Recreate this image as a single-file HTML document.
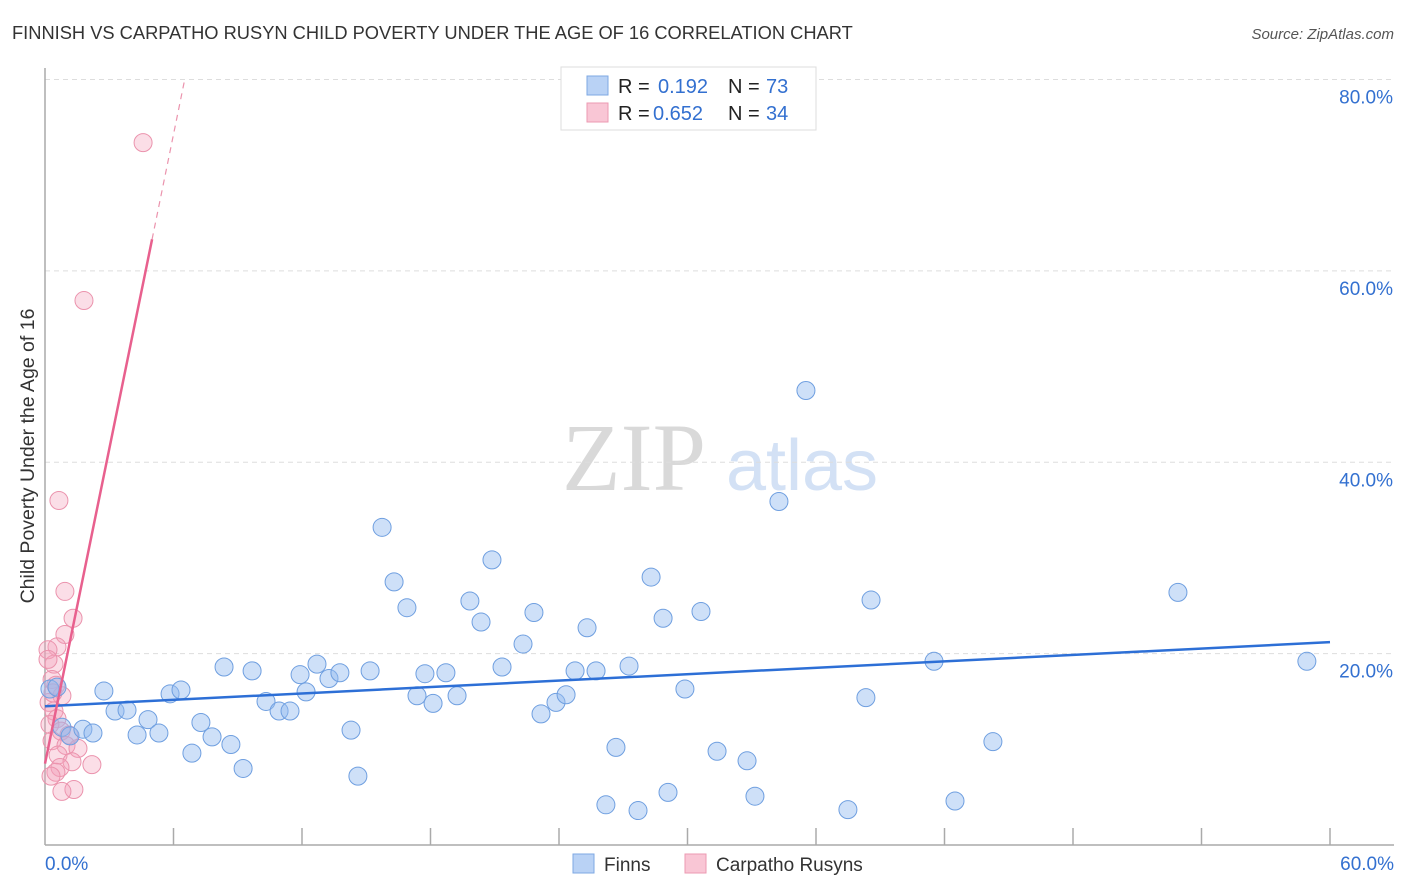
<!DOCTYPE html>
<html><head><meta charset="utf-8"><style>
body{margin:0;background:#fff;font-family:"Liberation Sans",sans-serif;}
#wrap{position:relative;width:1406px;height:892px;overflow:hidden;}
</style></head><body>
<div id="wrap">
<svg id="svg" width="1406" height="892" xmlns="http://www.w3.org/2000/svg">
<text x="12" y="39" font-size="18.3" fill="#333">FINNISH VS CARPATHO RUSYN CHILD POVERTY UNDER THE AGE OF 16 CORRELATION CHART</text>
<text x="1394" y="39" font-size="15" fill="#555" font-style="italic" text-anchor="end">Source: ZipAtlas.com</text>
<text x="34" y="456" font-size="19.5" fill="#333" text-anchor="middle" transform="rotate(-90 34 456)">Child Poverty Under the Age of 16</text>
<g>
<text x="634" y="490" font-size="96" fill="#d9d9d9" font-family="Liberation Serif,serif" text-anchor="middle">ZIP</text>
<text x="802" y="490" font-size="72" fill="#d3e1f5" text-anchor="middle">atlas</text>
</g>
<g id="grid"></g>
<g id="axes"></g>
<g id="pts"></g>
<g id="lines"></g>
<g>
<rect x="561" y="67" width="255" height="63" fill="#fff" stroke="#ddd"/>
<rect x="587" y="76" width="21" height="19" fill="#b9d2f5" stroke="#7ea8e3"/>
<rect x="587" y="103" width="21" height="19" fill="#f9c6d5" stroke="#ec9ab2"/>
<text y="93" font-size="20"><tspan x="618" fill="#222">R = </tspan><tspan x="658" fill="#3370d0">0.192</tspan><tspan x="728" fill="#222">N = </tspan><tspan x="766" fill="#3370d0">73</tspan></text>
<text y="120" font-size="20"><tspan x="618" fill="#222">R = </tspan><tspan x="653" fill="#3370d0">0.652</tspan><tspan x="728" fill="#222">N = </tspan><tspan x="766" fill="#3370d0">34</tspan></text>
</g>
<g>
<rect x="573" y="854" width="21" height="19" fill="#b9d2f5" stroke="#7ea8e3"/>
<text x="604" y="871" font-size="19" fill="#333">Finns</text>
<rect x="685" y="854" width="21" height="19" fill="#f9c6d5" stroke="#ec9ab2"/>
<text x="716" y="871" font-size="19" fill="#333">Carpatho Rusyns</text>
</g>
</svg>
</div>
<script>
const yTicks=[20,40,60,80];
const xTickLabels=["0.0%","60.0%"];
const finnsX=[0.23,0.56,0.79,1.17,1.77,2.24,2.75,3.27,3.83,4.30,4.81,5.32,5.84,6.35,6.86,7.28,7.80,8.36,8.68,9.25,9.67,10.32,10.93,11.44,11.91,12.19,12.70,13.26,13.77,14.29,14.61,15.18,15.74,16.30,16.90,17.37,17.74,18.12,18.72,19.24,19.84,20.36,20.87,21.34,22.32,22.83,23.16,23.86,24.33,24.75,25.31,25.73,26.19,26.66,27.27,27.69,28.30,28.86,29.09,29.88,30.63,31.38,32.78,33.15,34.27,35.53,37.49,38.33,38.57,41.51,42.49,44.26,52.90,58.92];
const finnsY=[16.3,16.5,12.3,11.4,12.1,11.7,16.1,14.0,14.1,11.5,13.1,11.7,15.8,16.2,9.6,12.8,11.3,18.6,10.5,8.0,18.2,15.0,14.0,14.0,17.8,16.0,18.9,17.4,18.0,12.0,7.2,18.2,33.2,27.5,24.8,15.6,17.9,14.8,18.0,15.6,25.5,23.3,29.8,18.6,21.0,24.3,13.7,14.9,15.7,18.2,22.7,18.2,4.2,10.2,18.7,3.6,28.0,23.7,5.5,16.3,24.4,9.8,8.8,5.1,35.9,47.5,3.7,15.4,25.6,19.2,4.6,10.8,26.4,19.2];
const rusynX=[4.58,1.82,0.65,0.93,1.31,0.93,0.56,0.14,0.42,0.33,0.51,0.79,0.19,0.42,0.56,0.23,0.75,1.12,0.33,0.98,1.54,0.61,1.26,2.19,0.70,0.51,0.28,1.35,0.79,0.14,0.37];
const rusynY=[73.4,56.9,36.0,26.5,23.7,22.0,20.7,20.4,18.9,17.3,16.7,15.6,14.9,14.0,13.2,12.6,11.9,11.5,10.9,10.4,10.1,9.4,8.7,8.4,8.1,7.6,7.2,5.8,5.6,19.4,15.9];
const finnsTrend=[14.5,21.2];
const rusynTrend=[8.5,63.3,80];
const NS="http://www.w3.org/2000/svg";
const X=v=>45+v*(1330-45)/60;
const Y=v=>845-v*(845-79.5)/80;
function mk(tag,attrs,parent){const e=document.createElementNS(NS,tag);for(const k in attrs)e.setAttribute(k,attrs[k]);parent.appendChild(e);return e;}
const grid=document.getElementById('grid'),axes=document.getElementById('axes'),pts=document.getElementById('pts'),lines=document.getElementById('lines');
yTicks.forEach(t=>{
 const l=mk('line',{x1:45,x2:1394,y1:Y(t),y2:Y(t),stroke:'#ddd','stroke-dasharray':'5,4'},grid);
 
 
 const tx=mk('text',{x:1393,y:Y(t)+24,'font-size':19,fill:'#3370d0','text-anchor':'end'},grid);
 tx.textContent=t.toFixed(1)+'%';
 
 
});
let a=mk('line',{x1:45,x2:45,y1:68,y2:845,stroke:'#aaa','stroke-width':1.5},axes);


a=mk('line',{x1:45,x2:1394,y1:845,y2:845,stroke:'#aaa','stroke-width':1.5},axes);


for(let i=1;i<=10;i++){
 const t=mk('line',{x1:X(i*6),x2:X(i*6),y1:828,y2:845,stroke:'#aaa','stroke-width':1.5},axes);
 
 
}
[[0,'start',45],[60,'end',1394]].forEach((d,i)=>{
 const tx=mk('text',{x:d[2],y:870,'font-size':19,fill:'#3370d0','text-anchor':d[1]},axes);
 tx.textContent=xTickLabels[i];
 
 
});
rusynX.forEach((v,i)=>{
 const c=mk('circle',{cx:X(v),cy:Y(rusynY[i]),r:9,fill:'rgba(244,160,185,0.35)',stroke:'#eb93ad','stroke-width':1},pts);
 
 
});
finnsX.forEach((v,i)=>{
 const c=mk('circle',{cx:X(v),cy:Y(finnsY[i]),r:9,fill:'rgba(147,187,240,0.45)',stroke:'#6f9fe0','stroke-width':1},pts);
 
 
});
let l=mk('line',{x1:X(0),y1:Y(finnsTrend[0]),x2:X(60),y2:Y(finnsTrend[1]),stroke:'#2d6fd6','stroke-width':2.5},lines);


l=mk('line',{x1:X(0),y1:Y(rusynTrend[0]),x2:X(5),y2:Y(rusynTrend[1]),stroke:'#e8608e','stroke-width':2.5},lines);


const slope=(rusynTrend[1]-rusynTrend[0])/5;
l=mk('line',{x1:X(5),y1:Y(rusynTrend[1]),x2:X((rusynTrend[2]-rusynTrend[0])/slope),y2:Y(rusynTrend[2]),stroke:'#eb93ad','stroke-width':1.2,'stroke-dasharray':'6,5'},lines);


</script>
</body></html>
